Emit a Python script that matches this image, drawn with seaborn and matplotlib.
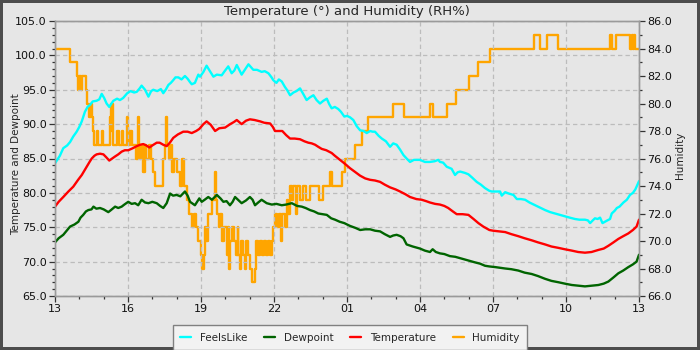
import matplotlib
matplotlib.use('Agg')
import matplotlib.pyplot as plt
from matplotlib.ticker import MultipleLocator, FormatStrFormatter
import pandas as pd
import seaborn as sns

# hours after 13:00
feels_hr = [0.0, 0.2, 0.34, 0.5, 0.62, 0.75, 0.89, 1.0, 1.1, 1.23, 1.34, 1.44, 1.55, 1.71, 1.82, 1.92,
            2.02, 2.12, 2.23, 2.32, 2.4, 2.55, 2.67, 2.8, 2.97, 3.1, 3.25, 3.36, 3.48, 3.56, 3.7, 3.84,
            3.95, 4.04, 4.2, 4.35, 4.45, 4.55, 4.66, 4.76, 4.86, 4.95, 5.07, 5.2, 5.34, 5.45, 5.55,
            5.62, 5.75, 5.89, 5.96, 6.1, 6.23, 6.35, 6.51, 6.65, 6.85, 6.95, 7.12, 7.26, 7.37, 7.47,
            7.57, 7.67, 7.8, 7.95, 8.05, 8.15, 8.3, 8.49, 8.62, 8.77, 8.9, 8.97, 9.1, 9.2, 9.32, 9.45,
            9.55, 9.66, 9.8, 9.92, 10.07, 10.2, 10.34, 10.48, 10.62, 10.75, 10.89, 11.03, 11.17,
            11.27, 11.37, 11.5, 11.64, 11.75, 11.89, 12.0, 12.12, 12.26, 12.4, 12.54, 12.68, 12.81,
            12.95, 13.05, 13.15, 13.3, 13.43, 13.6, 13.77, 13.9, 14.04, 14.18, 14.32, 14.45, 14.59,
            14.75, 15.0, 15.2, 15.41, 15.6, 15.75, 15.82, 15.95, 16.1, 16.3, 16.44, 16.55, 16.65,
            16.85, 16.99, 17.15, 17.33, 17.5, 17.67, 17.85, 17.95, 18.15, 18.29, 18.36, 18.5, 18.65,
            18.84, 18.98, 19.15, 19.32, 19.5, 19.73, 19.95, 20.14, 20.35, 20.55, 20.75, 20.96,
            21.15, 21.37, 21.55, 21.78, 21.9, 21.99, 22.1, 22.19, 22.3, 22.4, 22.5, 22.65, 22.81,
            22.88, 23.0, 23.09, 23.2, 23.36, 23.5, 23.63, 23.75, 23.85, 23.9, 24.0]
feels = [84.3, 85.4, 86.5, 86.9, 87.4, 88.2, 88.9, 89.6, 90.4, 91.8, 92.5, 92.8, 93.3, 93.4, 93.6, 94.4,
         93.8, 93.0, 92.5, 93.0, 93.4, 93.7, 93.5, 93.8, 94.5, 94.8, 94.6, 94.7, 95.2, 95.6, 95.0, 94.0,
         94.8, 95.0, 94.8, 95.1, 94.5, 95.0, 95.7, 96.0, 96.4, 96.8, 96.8, 96.5, 97.0, 96.6, 96.1,
         95.8, 96.0, 97.2, 96.9, 97.6, 98.5, 97.8, 96.9, 97.2, 97.1, 97.6, 98.4, 97.4, 97.8, 98.6,
         97.9, 97.2, 97.9, 98.7, 98.3, 97.9, 97.9, 97.6, 97.7, 97.4, 96.8, 96.4, 96.0, 96.5, 96.2, 95.4,
         94.9, 94.2, 94.6, 94.8, 95.2, 94.4, 93.5, 93.9, 94.2, 93.5, 93.0, 93.4, 93.7,
         92.9, 92.3, 92.5, 92.2, 91.8, 91.1, 91.2, 91.0, 90.6, 89.7, 89.1, 89.0, 88.7,
         89.0, 88.9, 88.9, 88.3, 87.9, 87.5, 86.7, 87.2, 87.0, 86.3, 85.5, 85.0, 84.5,
         84.8, 84.8, 84.5, 84.5, 84.6, 84.8, 84.5, 84.4, 83.8, 83.5, 82.6, 83.0, 83.1,
         82.9, 82.7, 82.2, 81.6, 81.2, 80.7, 80.3, 80.2, 80.2, 80.2, 79.6, 80.1, 79.9,
         79.7, 79.1, 79.1, 79.0, 78.6, 78.2, 77.8, 77.5, 77.2, 77.0, 76.8, 76.6,
         76.4, 76.2, 76.1, 76.1, 76.0, 75.6, 76.0, 76.3, 76.2, 76.4, 75.6, 75.9, 76.2,
         77.0, 77.4, 77.8, 78.0, 78.6, 79.0, 79.7, 80.0, 80.5, 80.9, 81.7]

temp_hr = [0.0, 0.15, 0.34, 0.55, 0.75, 0.95, 1.1, 1.3, 1.42, 1.51, 1.62, 1.71, 1.85, 1.99, 2.1, 2.23,
           2.35, 2.47, 2.6, 2.74, 2.87, 3.01, 3.2, 3.36, 3.5, 3.63, 3.75, 3.88, 4.0, 4.18, 4.3, 4.45,
           4.59, 4.72, 4.86, 5.05, 5.27, 5.45, 5.62, 5.8, 5.93, 6.1, 6.23, 6.4, 6.58, 6.75, 6.99,
           7.2, 7.35, 7.47, 7.57, 7.67, 7.85, 8.01, 8.2, 8.43, 8.6, 8.84, 8.95, 9.04, 9.2, 9.34, 9.5,
           9.66, 9.85, 10.07, 10.25, 10.41, 10.55, 10.69, 10.82, 10.96, 11.15, 11.37, 11.5, 11.64,
           11.89, 12.12, 12.35, 12.54, 12.75, 12.95, 13.15, 13.36, 13.55, 13.77, 14.0, 14.18, 14.4,
           14.59, 14.85, 15.07, 15.25, 15.41, 15.62, 15.82, 16.0, 16.16, 16.35, 16.51, 16.75, 16.99,
           17.2, 17.4, 17.6, 17.85, 18.0, 18.25, 18.5, 18.75, 19.04, 19.3, 19.59, 19.85, 20.14,
           20.4, 20.69, 20.95, 21.24, 21.5, 21.78, 22.05, 22.33, 22.55, 22.74, 22.95, 23.15, 23.35,
           23.56, 23.75, 23.9, 24.0]
temp = [78.0, 78.7, 79.4, 80.2, 80.9, 81.9, 82.6, 83.8, 84.5, 85.0, 85.4, 85.6, 85.7, 85.6, 85.2, 84.7,
        85.0, 85.3, 85.6, 86.0, 86.2, 86.2, 86.5, 86.8, 87.0, 87.1, 86.9, 86.6, 86.9, 87.3, 87.3, 87.0,
        86.8, 87.3, 88.0, 88.5, 88.9, 88.9, 88.7, 89.0, 89.3, 90.0, 90.4, 89.9, 89.0, 89.4, 89.5,
        90.0, 90.3, 90.6, 90.3, 90.0, 90.5, 90.7, 90.6, 90.4, 90.2, 90.1, 89.6, 89.0, 89.0, 89.0, 88.4,
        87.9, 87.9, 87.8, 87.5, 87.3, 87.2, 87.0, 86.7, 86.4, 86.2, 85.8, 85.4, 85.0,
        84.3, 83.6, 83.0, 82.5, 82.1, 81.9, 81.8, 81.6, 81.2, 80.8, 80.5, 80.2, 79.8,
        79.4, 79.1, 79.0, 78.8, 78.6, 78.4, 78.3, 78.1, 77.8, 77.3, 76.9, 76.9, 76.8,
        76.2, 75.6, 75.1, 74.6, 74.5, 74.4, 74.3, 74.0, 73.7, 73.4, 73.1, 72.8, 72.5,
        72.2, 72.0, 71.8, 71.6, 71.4, 71.3, 71.4, 71.7, 71.9, 72.3, 72.8, 73.3, 73.7,
        74.1, 74.6, 75.1, 76.1]

dew_hr = [0.0, 0.15, 0.34, 0.5, 0.62, 0.8, 0.96, 1.05, 1.16, 1.27, 1.37, 1.5, 1.58, 1.7, 1.85, 2.0,
          2.19, 2.3, 2.47, 2.6, 2.74, 2.85, 3.01, 3.15, 3.29, 3.42, 3.56, 3.7, 3.84, 4.0, 4.18, 4.32,
          4.45, 4.59, 4.73, 4.85, 5.0, 5.15, 5.34, 5.45, 5.55, 5.75, 5.93, 6.03, 6.15, 6.3, 6.45,
          6.65, 6.8, 6.92, 7.05, 7.19, 7.3, 7.4, 7.55, 7.67, 7.85, 8.01, 8.12, 8.22, 8.35, 8.49, 8.7,
          8.91, 9.1, 9.32, 9.5, 9.73, 9.95, 10.14, 10.3, 10.48, 10.65, 10.82, 11.0, 11.17, 11.35,
          11.51, 11.7, 11.89, 12.12, 12.35, 12.54, 12.75, 12.95, 13.15, 13.36, 13.55, 13.77, 13.9,
          14.04, 14.2, 14.32, 14.45, 14.7, 15.0, 15.2, 15.41, 15.52, 15.65, 15.82, 16.0, 16.23,
          16.45, 16.65, 16.85, 17.06, 17.25, 17.47, 17.67, 17.85, 18.1, 18.5, 18.75, 19.04, 19.3,
          19.59, 19.85, 20.14, 20.4, 20.69, 20.95, 21.24, 21.5, 21.78, 22.05, 22.33, 22.55, 22.74,
          22.95, 23.15, 23.35, 23.56, 23.75, 23.9, 24.0]
dew = [72.8, 73.4, 73.9, 74.6, 75.1, 75.4, 75.8, 76.4, 76.8, 77.3, 77.5, 77.6, 78.0, 77.7, 77.8, 77.6,
       77.2, 77.5, 78.0, 77.8, 78.0, 78.3, 78.7, 78.4, 78.5, 78.2, 79.0, 78.6, 78.5, 78.7, 78.5, 78.1,
       77.8, 78.5, 79.9, 79.6, 79.7, 79.5, 80.2, 79.6, 78.7, 78.2, 79.2, 78.7, 79.0, 79.4, 79.0,
       79.7, 79.2, 78.7, 78.8, 78.2, 78.7, 79.4, 78.9, 78.5, 78.9, 79.4, 79.0, 78.2, 78.6, 79.0, 78.5,
       78.3, 78.4, 78.2, 78.3, 78.5, 78.1, 78.0, 77.8, 77.5, 77.3, 77.0, 76.9, 76.8, 76.3,
       76.1, 75.8, 75.6, 75.2, 74.9, 74.6, 74.7, 74.7, 74.5, 74.4, 74.0, 73.6, 73.8,
       73.9, 73.7, 73.4, 72.5, 72.2, 71.9, 71.6, 71.4, 71.8, 71.4, 71.2, 71.1, 70.8,
       70.7, 70.5, 70.3, 70.1, 69.9, 69.7, 69.4, 69.3, 69.2, 69.0, 68.9, 68.7, 68.4,
       68.2, 67.9, 67.5, 67.2, 67.0, 66.8, 66.6, 66.5, 66.4, 66.5, 66.6, 66.8, 67.1,
       67.7, 68.3, 68.7, 69.2, 69.6, 70.0, 71.0]

# humidity is a step series: each value holds until the next time
hum_hr = [0.0, 0.6, 0.89, 0.95, 1.0, 1.05, 1.1, 1.27, 1.33, 1.41,
          1.47, 1.53, 1.58, 1.62, 1.72, 1.76, 1.92, 1.96, 2.26, 2.3,
          2.33, 2.36, 2.4, 2.55, 2.62, 2.75, 2.8, 2.95, 3.0, 3.05,
          3.1, 3.15, 3.33, 3.4, 3.44, 3.5, 3.55, 3.63, 3.68, 3.75,
          3.85, 3.95, 4.04, 4.12, 4.45, 4.5, 4.55, 4.62, 4.7, 4.76,
          4.8, 4.9, 5.0, 5.14, 5.2, 5.3, 5.41, 5.5, 5.62, 5.7,
          5.8, 5.89, 6.0, 6.06, 6.12, 6.16, 6.22, 6.3, 6.44, 6.56,
          6.62, 6.66, 6.72, 6.8, 6.85, 6.95, 7.05, 7.1, 7.15, 7.2,
          7.26, 7.35, 7.42, 7.5, 7.53, 7.6, 7.66, 7.74, 7.8, 7.86,
          7.92, 8.01, 8.08, 8.2, 8.26, 8.35, 8.42, 8.5, 8.58, 8.66,
          8.74, 8.82, 8.9, 8.97, 9.05, 9.12, 9.2, 9.27, 9.33, 9.45,
          9.52, 9.59, 9.66, 9.75, 9.8, 9.9, 9.95, 10.07, 10.2, 10.3,
          10.48, 10.85, 11.03, 11.3, 11.37, 11.78, 11.9, 12.33, 12.6, 12.88,
          13.9, 14.34, 15.41, 15.55, 16.1, 16.48, 17.03, 17.4, 17.88, 19.7,
          19.93, 20.21, 20.66, 22.81, 22.9, 23.06, 23.63, 23.7, 23.75, 23.8,
          23.84, 24.0]
hum = [84, 83, 82, 81, 82, 81, 82, 81, 80, 79,
       80, 79, 78, 77, 78, 77, 78, 77, 79, 80,
       78, 80, 77, 78, 77, 78, 77, 79, 78, 77,
       78, 77, 76, 79, 77, 76, 77, 75, 77, 76,
       77, 76, 75, 74, 76, 77, 79, 77, 76, 77,
       75, 76, 75, 74, 76, 74, 73, 72, 71, 72,
       71, 70, 69, 68, 69, 71, 70, 72, 73, 75,
       73, 72, 71, 72, 70, 71, 69, 71, 68, 70,
       71, 70, 69, 71, 69, 68, 70, 69, 68, 70,
       69, 68, 67, 68, 70, 69, 70, 69, 70, 69,
       70, 69, 70, 71, 72, 71, 72, 70, 72, 71,
       73, 72, 74, 73, 74, 72, 74, 73, 74, 73,
       74, 73, 74, 75, 74, 75, 76, 77, 78, 79,
       80, 79, 80, 79, 80, 81, 82, 83, 84, 85,
       84, 85, 84, 85, 84, 85, 84, 85, 84, 85,
       84, 84]

x_ticks = [0, 3, 6, 9, 12, 15, 18, 21, 24]
x_labels = ['13', '16', '19', '22', '01', '04', '07', '10', '13']

bg = '#e6e6e6'
sns.set_style('whitegrid', rc={
    'axes.facecolor': bg,
    'figure.facecolor': bg,
    'axes.edgecolor': '#9a9a9a',
    'grid.color': '#bdbdbd',
    'xtick.bottom': True,
    'ytick.left': True,
})
plt.rcParams['font.family'] = ['DejaVu Sans']
plt.rcParams['font.size'] = 8

fig = plt.figure(figsize=(7, 3.5), dpi=100)
fig.patch.set_edgecolor('#4d4d4d')
fig.patch.set_linewidth(4)
ax = fig.add_axes([55 / 700, 54 / 350, 584 / 700, 275 / 350])
ax2 = ax.twinx()

feels_df = pd.DataFrame({'hour': feels_hr, 'value': feels})
dew_df = pd.DataFrame({'hour': dew_hr, 'value': dew})
temp_df = pd.DataFrame({'hour': temp_hr, 'value': temp})
hum_df = pd.DataFrame({'hour': hum_hr, 'value': hum})

lw = 1.7
sns.lineplot(data=feels_df, x='hour', y='value', ax=ax, color='#00ffff', lw=lw,
             estimator=None, sort=False, label='FeelsLike', legend=False)
sns.lineplot(data=dew_df, x='hour', y='value', ax=ax, color='#006400', lw=lw,
             estimator=None, sort=False, label='Dewpoint', legend=False)
sns.lineplot(data=temp_df, x='hour', y='value', ax=ax, color='#ff0000', lw=lw,
             estimator=None, sort=False, label='Temperature', legend=False)
sns.lineplot(data=hum_df, x='hour', y='value', ax=ax2, color='#ffa500', lw=lw,
             estimator=None, sort=False, label='Humidity', legend=False,
             drawstyle='steps-post')

# left axis on top so dewpoint shows over humidity
ax.set_zorder(ax2.get_zorder() + 1)
ax.patch.set_visible(False)

ax.set_xlim(0, 24)
ax.set_ylim(65, 105)
ax2.set_ylim(66, 86)
ax.set_xticks(x_ticks)
ax.set_xticklabels(x_labels)
ax.xaxis.set_minor_locator(MultipleLocator(1))
ax.yaxis.set_major_locator(MultipleLocator(5))
ax.yaxis.set_minor_locator(MultipleLocator(1))
ax.yaxis.set_major_formatter(FormatStrFormatter('%.1f'))
ax2.yaxis.set_major_locator(MultipleLocator(2))
ax2.yaxis.set_minor_locator(MultipleLocator(1))
ax2.yaxis.set_major_formatter(FormatStrFormatter('%.1f'))
ax2.grid(False)
ax.grid(False, which='minor')
ax.grid(True, which='major', color='#bcbcbc', linestyle=(0, (3.5, 2.5)), linewidth=0.9)

for a in (ax, ax2):
    a.tick_params(which='major', length=4, width=0.9, color='#333333', labelsize=8,
                  labelcolor='#111111', pad=2)
    a.tick_params(which='minor', length=2.5, width=0.9, color='#333333')
    for s in a.spines.values():
        s.set_color('#9a9a9a')
        s.set_linewidth(1)

ax.set_xlabel('')
ax.set_ylabel('Temperature and Dewpoint', fontsize=7.5)
ax.yaxis.set_label_coords(-0.058, 0.48)
ax2.set_ylabel('Humidity', fontsize=7.5)
ax2.yaxis.set_label_coords(1.062, 0.51)
ax.set_title('Temperature (°) and Humidity (RH%)', fontsize=9.5, pad=4)

handles = ax.get_lines() + ax2.get_lines()
handles = [h for h in handles if h.get_label() in ('FeelsLike', 'Dewpoint', 'Temperature', 'Humidity')]
leg = fig.legend(handles=handles, labels=[h.get_label() for h in handles],
                 loc='lower center', bbox_to_anchor=(0.5, 0.0), ncol=4, fontsize=7.5,
                 frameon=True, fancybox=False, framealpha=1, facecolor='#f2f2f2',
                 edgecolor='#808080', handlelength=1.05, handletextpad=0.85,
                 columnspacing=1.6, borderpad=0.7, borderaxespad=0)
leg.get_frame().set_linewidth(1)

fig.savefig('out.png', dpi=100, facecolor=fig.get_facecolor(), edgecolor=fig.get_edgecolor())
